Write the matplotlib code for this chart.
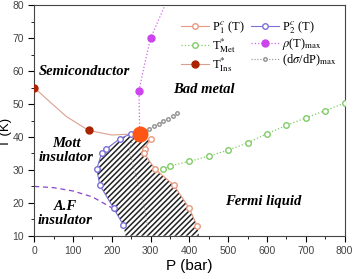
import numpy as np
import matplotlib.pyplot as plt
from matplotlib.lines import Line2D

# phase boundaries: P in bar, T in K
p1_P = [300, 285, 284, 311, 360, 400, 420]
p1_T = [39.5, 36.5, 35.0, 30.3, 25.4, 18.3, 13.0]

p2_P = [250, 221, 185, 174, 161, 169, 205, 230]
p2_T = [41.0, 39.5, 36.3, 35.2, 30.2, 25.4, 18.3, 13.2]

met_P = [331, 350, 400, 450, 500, 550, 600, 650, 700, 750, 800]
met_T = [30.2, 31.2, 32.6, 34.2, 36.0, 38.2, 41.0, 43.5, 45.8, 48.0, 50.3]

ins_P = [0, 140]
ins_T = [55, 42]
ins_curve_P = [0, 40, 83, 140, 200, 272]
ins_curve_T = [55, 50.7, 46.2, 42, 40.6, 41]

rho_P = [270, 300]
rho_T = [54, 70]
rho_curve_P = [272, 270, 285, 300, 337]
rho_curve_T = [41, 54, 62.4, 70, 80]

dsig_P = [286, 297, 309, 321, 333, 345, 357, 369]
dsig_T = [41.8, 42.5, 43.2, 44.0, 44.8, 45.6, 46.4, 47.2]
dsig_low_P = [272, 255, 245, 258, 272, 285, 293]
dsig_low_T = [41, 39.5, 36, 30, 24, 18, 12.5]

crit_P = [272]
crit_T = [41]

af_P = [0, 50, 100, 150, 200]
af_T = [25, 24.6, 23.6, 21.8, 18.5]

# hatched region between the two critical pressures
hatch_P = [235] + p2_P[::-1] + crit_P + p1_P + [425]
hatch_T = [10] + p2_T[::-1] + crit_T + p1_T + [10]

c_p1 = "#e89a80"
c_p2 = "#7a70d8"
c_met = "#80cc66"
c_rho = "#cc44ee"
c_ins = "#aa2200"
c_ins_line = "#d8a090"
c_dsig = "#909090"

plt.rcParams["mathtext.fontset"] = "stix"
plt.rcParams["hatch.linewidth"] = 1.1

fig = plt.figure(figsize=(3.53, 2.79), dpi=100)
ax = fig.add_axes([0.097, 0.155, 0.879, 0.826])

ax.fill(hatch_P, hatch_T, facecolor="white", edgecolor="#222222", hatch="//////", linewidth=0, zorder=1)

ax.plot(dsig_low_P, dsig_low_T, ":", color="#a0a0a0", linewidth=0.8, zorder=2)
ax.plot(ins_curve_P, ins_curve_T, "-", color=c_ins_line, linewidth=0.8, zorder=2)
ax.plot(rho_curve_P, rho_curve_T, ":", color="#cc66ee", linewidth=0.9, zorder=2)
ax.plot(af_P, af_T, "--", color="#8844cc", linewidth=0.9, dashes=(4, 3), zorder=2)

ax.plot(p1_P, p1_T, "-o", color=c_p1, markerfacecolor="white", markersize=4, linewidth=0.8, zorder=3)
ax.plot(p2_P, p2_T, "-o", color=c_p2, markerfacecolor="white", markersize=4, linewidth=0.8, zorder=3)
ax.plot(met_P, met_T, ":o", color=c_met, markerfacecolor="white", markersize=4, linewidth=0.9, zorder=3)
ax.plot(rho_P, rho_T, "o", color=c_rho, markersize=5, zorder=3)
ax.plot(ins_P, ins_T, "o", color=c_ins, markersize=5, zorder=3)
ax.plot(dsig_P, dsig_T, ":o", color=c_dsig, markerfacecolor="white", markersize=2.5, linewidth=0.8, zorder=3)
ax.plot(crit_P, crit_T, "o", color="#ff5515", markersize=10.5, zorder=4)

# legend built from proxies so that line and marker colours match the original
handles = [
    Line2D([], [], color=c_p1, marker="o", markerfacecolor="white", markersize=4, linewidth=0.8),
    Line2D([], [], color=c_met, marker="o", markerfacecolor="white", markersize=4, linestyle=":", linewidth=0.9),
    Line2D([], [], color=c_ins_line, marker="o", markerfacecolor=c_ins, markeredgecolor=c_ins, markersize=5, linewidth=0.8),
    Line2D([], [], color=c_p2, marker="o", markerfacecolor="white", markersize=4, linewidth=0.8),
    Line2D([], [], color="#cc66ee", marker="o", markerfacecolor=c_rho, markeredgecolor=c_rho, markersize=5, linestyle=":", linewidth=0.9),
    Line2D([], [], color=c_dsig, marker="o", markerfacecolor="white", markersize=2.5, linestyle=":", linewidth=0.8),
]
labels = [
    r"P$^{c}_{1}$ (T)",
    r"T$^{*}_{\mathrm{Met}}$",
    r"T$^{*}_{\mathrm{Ins}}$",
    r"P$^{c}_{2}$ (T)",
    r"$\rho$(T)$_{\mathrm{max}}$",
    r"(d$\sigma$/dP)$_{\mathrm{max}}$",
]
ax.legend(handles, labels, ncol=2, frameon=False, loc="upper left", bbox_to_anchor=(0.445, 0.975),
          handlelength=2.2, handletextpad=0.3, columnspacing=0.5, labelspacing=0.0,
          borderpad=0.2, prop={"family": "Liberation Serif", "size": 9})

txt = dict(family="Liberation Serif", weight="bold", style="italic", fontsize=10.5)
ax.text(12, 60, "Semiconductor", ha="left", va="center", **txt)
ax.text(358, 54.3, "Bad metal", ha="left", va="center", **txt)
ax.text(83, 35.8, "Mott\ninsulator", ha="center", va="center", linespacing=1.1, **txt)
ax.text(80, 16.8, "A.F\ninsulator", ha="center", va="center", linespacing=1.1, **txt)
ax.text(491, 20.3, "Fermi liquid", ha="left", va="center", **txt)

ax.set_xlim(0, 800)
ax.set_ylim(10, 80)
ax.set_xticks(np.arange(0, 801, 100))
ax.set_xticks(np.arange(50, 800, 100), minor=True)
ax.set_yticks(np.arange(10, 81, 10))
ax.set_yticks(np.arange(15, 80, 10), minor=True)
ax.tick_params(which="both", direction="out", labelsize=7.5, labelcolor="#444444",
               top=False, right=False)
ax.tick_params(which="major", length=4)
ax.tick_params(which="minor", length=2.5)
for lab in ax.get_xticklabels() + ax.get_yticklabels():
    lab.set_family("Liberation Sans")
for s in ax.spines.values():
    s.set_color("#444444")

ax.set_xlabel("P (bar)", family="Liberation Sans", fontsize=11, labelpad=2)
ax.set_ylabel("T (K)", family="Liberation Sans", fontsize=9.5)
ax.yaxis.set_label_coords(-0.072, 0.45)

plt.savefig("out.png", dpi=100)
